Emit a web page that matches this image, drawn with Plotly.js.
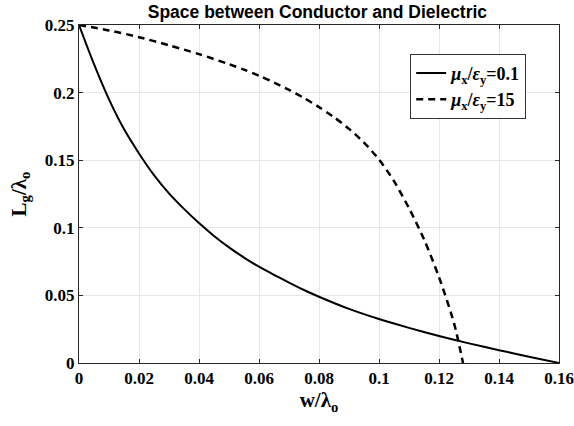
<!DOCTYPE html>
<html>
<head>
<meta charset="utf-8">
<script src="https://cdn.plot.ly/plotly-3.0.1.min.js"></script>
<style>
  html, body { margin: 0; padding: 0; background: #ffffff; }
  #chart { width: 574px; height: 426px; }
</style>
</head>
<body>
<div id="chart"></div>
<script>
// Normalised strip width w/λo
const wLow = [0, 0.005, 0.01, 0.015, 0.02, 0.025, 0.03, 0.035, 0.04, 0.045, 0.05, 0.055, 0.06, 0.065, 0.07, 0.075, 0.08, 0.09, 0.1, 0.11, 0.12, 0.13, 0.14, 0.15, 0.16];
// Normalised gap length Lg/λo for μx/εy = 0.1
const lgLow = [0.25, 0.221, 0.195, 0.173, 0.155, 0.139, 0.1255, 0.1140, 0.1035, 0.0940, 0.0855, 0.0780, 0.0712, 0.0652, 0.0595, 0.0540, 0.049, 0.040, 0.0325, 0.026, 0.020, 0.0145, 0.0095, 0.0047, 0.0];

const wHigh = [0, 0.01, 0.02, 0.03, 0.04, 0.05, 0.055, 0.06, 0.065, 0.07, 0.075, 0.08, 0.085, 0.09, 0.095, 0.1, 0.105, 0.11, 0.115, 0.12, 0.125, 0.128];
// Normalised gap length Lg/λo for μx/εy = 15
const lgHigh = [0.25, 0.246, 0.241, 0.235, 0.2285, 0.221, 0.217, 0.2125, 0.2075, 0.202, 0.196, 0.1893, 0.1818, 0.1732, 0.163, 0.1505, 0.1345, 0.1145, 0.0915, 0.0635, 0.0295, 0.0];

const seriesNames = [
  '<i>μ</i><sub>x</sub>/<i>ε</i><sub>y</sub>=0.1',
  '<i>μ</i><sub>x</sub>/<i>ε</i><sub>y</sub>=15'
];

const xTicks = [0, 0.02, 0.04, 0.06, 0.08, 0.1, 0.12, 0.14, 0.16];
const xTickText = ['0', '0.02', '0.04', '0.06', '0.08', '0.1', '0.12', '0.14', '0.16'];
const yTicks = [0, 0.05, 0.1, 0.15, 0.2, 0.25];
const yTickText = ['0', '0.05', '0.1', '0.15', '0.2', '0.25'];

const serif = 'Liberation Serif, Times New Roman, serif';

const traces = [
  {
    x: wLow, y: lgLow, type: 'scatter', mode: 'lines',
    name: seriesNames[0],
    line: { color: '#000000', width: 2, dash: 'solid', shape: 'spline', smoothing: 0.8 }
  },
  {
    x: wHigh, y: lgHigh, type: 'scatter', mode: 'lines',
    name: seriesNames[1],
    line: { color: '#000000', width: 2.5, dash: '7px,5px', shape: 'spline', smoothing: 0.8 }
  }
];

const axisCommon = {
  showline: true, linecolor: '#262626', linewidth: 1, mirror: 'ticks',
  ticks: 'inside', ticklen: 4, tickcolor: '#262626',
  showgrid: true, gridcolor: '#e6e6e6', gridwidth: 1,
  zeroline: false,
  tickfont: { family: serif, size: 17, color: '#000000', weight: 'bold' }
};

const layout = {
  width: 574, height: 426,
  paper_bgcolor: '#ffffff', plot_bgcolor: '#ffffff',
  margin: { l: 79, r: 15, t: 25, b: 63 },
  showlegend: true,
  title: {
    text: 'Space between Conductor and Dielectric',
    font: { family: 'Liberation Sans, Arial, sans-serif', size: 17.5, color: '#000000', weight: 'bold' },
    x: 0.553, xanchor: 'center', y: 0.972, yanchor: 'middle'
  },
  xaxis: Object.assign({}, axisCommon, {
    automargin: 'height',
    range: [0, 0.16], tickvals: xTicks, ticktext: xTickText,
    title: {
      text: 'w/λ<sub>o</sub>',
      font: { family: serif, size: 21, color: '#000000', weight: 'bold' },
      standoff: 2
    }
  }),
  yaxis: Object.assign({}, axisCommon, {
    automargin: true,
    range: [0, 0.25], tickvals: yTicks, ticktext: yTickText,
    title: {
      text: 'L<sub>g</sub>/λ<sub>o</sub>',
      font: { family: serif, size: 21, color: '#000000', weight: 'bold' },
      standoff: 12
    }
  }),
  legend: {
    x: 0.69, y: 0.915, xanchor: 'left', yanchor: 'top',
    bgcolor: '#ffffff', bordercolor: '#333333', borderwidth: 1,
    font: { family: serif, size: 18, color: '#000000', weight: 'bold' },
    tracegroupgap: 2, itemwidth: 30
  }
};

Plotly.newPlot('chart', traces, layout, { staticPlot: true, displayModeBar: false });
</script>
</body>
</html>
